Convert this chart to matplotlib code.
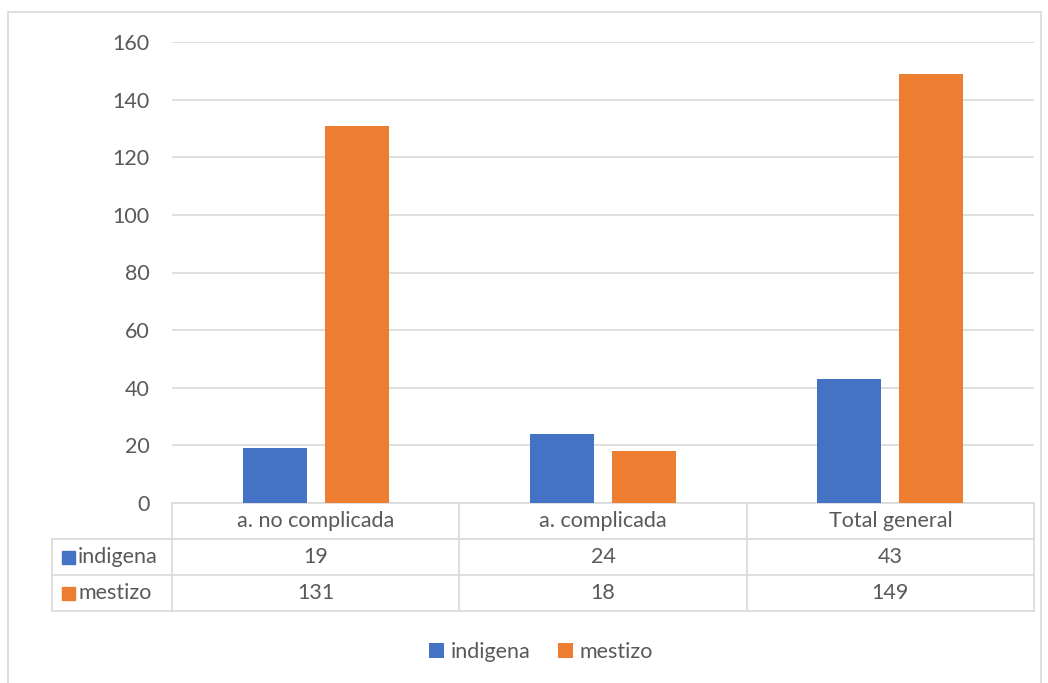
import matplotlib.pyplot as plt
from matplotlib.patches import Rectangle
import numpy as np

categories = ['a. no complicada', 'a. complicada', 'Total general']
series = ['indigena', 'mestizo']
indigena = [19, 24, 43]
mestizo = [131, 18, 149]
colors = ['#4472C4', '#ED7D31']
yticks = [0, 20, 40, 60, 80, 100, 120, 140, 160]

W, H = 1048, 683
txt = '#595959'
grid = '#D9D9D9'
fs = 15.5
plt.rcParams['font.family'] = ['Lato', 'DejaVu Sans']

fig = plt.figure(figsize=(W / 100, H / 100), dpi=100)
fig.patches.append(Rectangle((8 / W, -0.02), 1033 / W, 1 - 12 / H + 0.02,
                             transform=fig.transFigure, fill=False,
                             edgecolor=grid, linewidth=1.2))

ax = fig.add_axes([172 / W, 1 - 503 / H, 862 / W, 461 / H])
x = np.arange(len(categories))
bw = 0.223
off = (bw + 18 / 287) / 2
values = [indigena, mestizo]
for i, (name, vals) in enumerate(zip(series, values)):
    ax.bar(x + (i * 2 - 1) * off, vals, width=bw, color=colors[i], label=name, zorder=3)

ax.set_xlim(-0.5, len(categories) - 0.5)
ax.set_ylim(0, 160)
ax.set_yticks(yticks)
ax.set_xticks([])
ax.tick_params(axis='y', length=0, pad=16, labelsize=fs, labelcolor=txt)
ax.grid(axis='y', color=grid, linewidth=1.2, zorder=0)
for s in ax.spines.values():
    s.set_visible(False)

# data table below the axes (axes fraction units for y)
rh = 36 / 461
lx = (52 - 172) / 862  # left edge of row labels in axes fraction
kw = dict(color=grid, linewidth=1.2, clip_on=False, transform=ax.transAxes)
ax.plot([0, 1], [0, 0], **kw)
for r in range(1, 4):
    ax.plot([lx, 1], [-r * rh, -r * rh], **kw)
ax.plot([lx, lx], [-rh, -3 * rh], **kw)
for c in range(len(categories) + 1):
    xf = c / len(categories)
    ax.plot([xf, xf], [0, -3 * rh], **kw)

for c, cat in enumerate(categories):
    xc = (c + 0.5) / len(categories)
    ax.text(xc, -0.5 * rh, cat, transform=ax.transAxes, ha='center', va='center',
            fontsize=fs, color=txt)
    for r, vals in enumerate(values):
        ax.text(xc, -(r + 1.5) * rh, str(vals[c]), transform=ax.transAxes,
                ha='center', va='center', fontsize=fs, color=txt)

for r, name in enumerate(series):
    yc = -(r + 1.5) * rh
    ax.add_patch(Rectangle(((62 - 172) / 862, yc - 6.5 / 461), 13 / 862, 13 / 461,
                           transform=ax.transAxes, color=colors[r], clip_on=False))
    ax.text((78 - 172) / 862, yc, name, transform=ax.transAxes, ha='left',
            va='center', fontsize=fs, color=txt)

fig.legend(loc='center', bbox_to_anchor=(541 / W, 1 - 652 / H), ncol=2, frameon=False,
           fontsize=fs, labelcolor=txt, handlelength=0.7, handleheight=0.7,
           handletextpad=0.3, columnspacing=1.3)

fig.savefig('out.png', dpi=100)
